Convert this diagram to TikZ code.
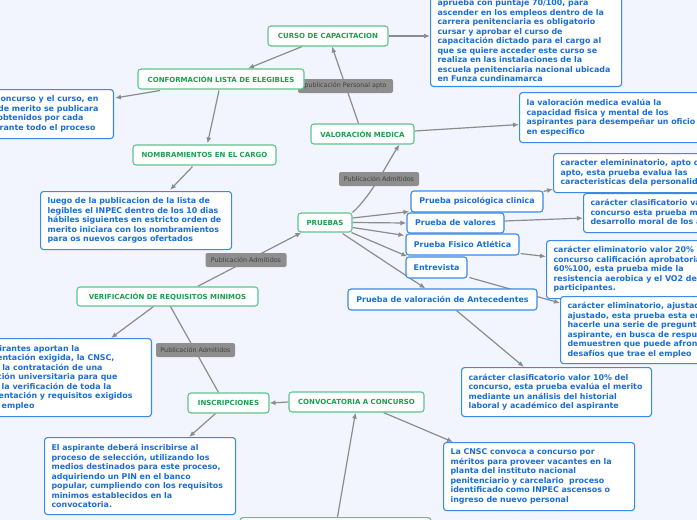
\documentclass[tikz,border=0pt]{standalone}
\usepackage{fontspec}
\setmainfont{DejaVu Sans}
\usetikzlibrary{arrows.meta,calc}
\definecolor{bgc}{HTML}{F2F5FD}
\definecolor{btxt}{HTML}{1A6ED8}
\definecolor{bbrd}{HTML}{3A8AE8}
\definecolor{gtxt}{HTML}{1E9E50}
\definecolor{gbrd}{HTML}{5DC58C}
\definecolor{lnc}{HTML}{8C8C8C}
\definecolor{lblf}{HTML}{8E8E8E}
\definecolor{lblt}{HTML}{404040}
\pgfdeclarelayer{bg}
\pgfsetlayers{bg,main}
\newcommand\padr[1]{\rule{#1}{0pt}}
\tikzset{
  bluebox/.style={draw=bbrd, line width=1.1pt, fill=white, rounded corners=3pt, text=btxt,
    font=\fontsize{7.9}{9.5}\selectfont\bfseries, inner xsep=7pt, inner ysep=3pt, align=left},
  prueba/.style={bluebox, minimum height=21pt, inner ysep=0pt, align=center},
  greenbox/.style={draw=gbrd, line width=1.1pt, fill=white, rounded corners=3pt, text=gtxt,
    font=\fontsize{7}{8}\selectfont\bfseries, minimum height=20pt, inner sep=0pt},
  lbl/.style={fill=lblf, rounded corners=2pt, text=lblt, font=\fontsize{6.4}{7}\selectfont,
    minimum height=14pt, inner xsep=3pt, inner ysep=0pt},
  conn/.style={draw=lnc, line width=1.2pt, -{Latex[length=6pt,width=5pt]}},
  linkplain/.style={draw=lnc, line width=1.2pt}
}
\begin{document}
\begin{tikzpicture}[x=1pt,y=-1pt]
\useasboundingbox (0,0) rectangle (697,520);
\clip (0,0) rectangle (697,520);

% ---- top area
\node[greenbox, minimum width=120pt] (curso) at (328,36) {CURSO DE CAPACITACION};
\node[bluebox, anchor=south west, text width=177pt, inner ysep=4.5pt] (toptext) at (430,87)
 {aprueba con puntaje 70/100, para\\ascender en los empleos dentro de la\\carrera penitenciaria es obligatorio\\cursar y aprobar el curso de\\capacitación dictado para el cargo al\\que se quiere acceder este curso se\\realiza en las instalaciones de la\\escuela penitenciaria nacional ubicada\\en Funza cundinamarca};
\node[lbl, minimum width=95pt] (lapto) at (345.5,86) {publicación Personal apto};
\node[greenbox, minimum width=166pt] (conf) at (221,79) {CONFORMACIÓN LISTA DE ELEGIBLES};
\node[bluebox, anchor=north east, align=right, minimum height=49pt] (conc) at (114,89)
 {el concurso y el curso, en\padr{8pt}\\la lista de merito se publicara\padr{8pt}\\los puntajes obtenidos por cada\padr{23pt}\\aspirante durante todo el proceso\padr{11pt}};
\node[greenbox, minimum width=143pt] (nomb) at (204.5,155) {NOMBRAMIENTOS EN EL CARGO};
\node[bluebox, anchor=north west, text width=177pt, minimum height=58pt] (luego) at (40,191)
 {luego de la publicacion de la lista de\\legibles el INPEC dentro de los 10 dias\\hábiles siguientes en estricto orden de\\merito iniciara con los nombramientos\\para os nuevos cargos ofertados};

% ---- valoracion medica
\node[greenbox, minimum width=103pt] (val) at (362.5,134) {VALORACIÓN MEDICA};
\node[bluebox, anchor=north west, minimum height=50pt] (valtext) at (519,92)
 {la valoración medica evalúa la\\capacidad fisica y mental de los\\aspirantes para desempeñar un oficio\\en especifico};
\node[lbl, minimum width=80pt] (ladm2) at (379,179) {Publicación Admitidos};

% ---- pruebas
\node[greenbox, minimum width=54pt, minimum height=19pt] (pru) at (325,222.5) {PRUEBAS};
\node[bluebox, anchor=north west, minimum height=39pt] (car1) at (553,153)
 {caracter elemininatorio, apto o no\\apto, esta prueba evalua las\\caracteristicas dela personalidad};
\node[bluebox, anchor=north west, minimum height=39pt] (clas) at (583,193)
 {carácter clasificatorio valor 10\% del\\concurso esta prueba mide el\\desarrollo moral de los aspirantes};
\node[bluebox, anchor=north west, minimum height=58pt] (e20) at (546,240)
 {carácter eliminatorio valor 20\% del\\concurso calificación aprobatoria\\60\%100, esta prueba mide la\\resistencia aerobica y el VO2 de los\\participantes.};
\node[bluebox, anchor=north west, minimum height=67pt] (ajust) at (560,296)
 {carácter eliminatorio, ajustado o no\\ajustado, esta prueba esta enfocada en\\hacerle una serie de preguntas al\\aspirante, en busca de respuestas que\\demuestren que puede afrontar los\\desafíos que trae el empleo};
\node[prueba, minimum width=132pt] (psico) at (477,201.5) {Prueba psicológica clinica};
\node[prueba, minimum width=97pt, minimum height=20pt] (valores) at (455.5,223) {Prueba de valores};
\node[prueba, minimum width=113pt] (fisico) at (462.5,244.5) {Prueba Fisico Atlética};
\node[prueba, minimum width=61pt] (entre) at (436.5,267.5) {Entrevista};
\node[prueba, minimum width=189pt] (ante) at (442.5,299.5) {Prueba de valoración de Antecedentes};
\node[bluebox, anchor=north west, text width=176pt, minimum height=49pt] (c10) at (461,367)
 {carácter clasificatorio valor 10\% del\\concurso, esta prueba evalúa el merito\\mediante un análisis del historial\\laboral y académico del aspirante};

% ---- verificacion
\node[lbl, minimum width=81pt] (ladm1) at (246,260) {Publicación Admitidos};
\node[greenbox, minimum width=181pt, minimum height=19pt] (verif) at (167.5,296.5) {VERIFICACIÓN DE REQUISITOS MINIMOS};
\node[bluebox, anchor=north east, align=right, minimum height=78pt] (irantes) at (152,338)
 {Los aspirantes aportan la\padr{65pt}\\documentación exigida, la CNSC,\padr{30pt}\\realiza la contratación de una\padr{42pt}\\institución universitaria para que\padr{27pt}\\realice la verificación de toda la\padr{33pt}\\documentación y requisitos exigidos\padr{12pt}\\para el empleo\padr{110pt}};
\node[lbl, minimum width=79pt] (ladm3) at (195.5,350) {Publicación Admitidos};

% ---- inscripciones / convocatoria
\node[greenbox, minimum width=81pt] (insc) at (228.5,403) {INSCRIPCIONES};
\node[bluebox, anchor=north west, text width=177pt, minimum height=77pt] (aspir) at (44,437)
 {El aspirante deberá inscribirse al\\proceso de selección, utilizando los\\medios destinados para este proceso,\\adquiriendo un PIN en el banco\\popular, cumpliendo con los requisitos\\minimos establecidos en la\\convocatoria.};
\node[greenbox, minimum width=135pt] (conv) at (356.5,402) {CONVOCATORIA A CONCURSO};
\node[bluebox, anchor=north west, text width=177pt, minimum height=68pt] (cnsc) at (443,442)
 {La CNSC convoca a concurso por\\méritos para proveer vacantes en la\\planta del instituto nacional\\penitenciario y carcelario \ proceso\\identificado como INPEC ascensos o\\ingreso de nuevo personal};
\node[greenbox, anchor=north, minimum width=191pt] (bot) at (335.5,517) {};

% ---- connectors
\begin{pgfonlayer}{bg}
\clip (0,0) rectangle (697,520);
\fill[bgc] (0,0) rectangle (697,520);
\draw[conn] (curso.east) -- (curso.east -| toptext.west);
\draw[conn] ($(curso.south)+(-26,0)$) -- ($(conf.north)+(27,0)$);
\draw[conn] ($(val.north)+(-4,0)$) -- ($(curso.south)+(4,0)$);
\draw[conn] ($(conf.south)+(-61,1)$) -- ($(conc.north east)+(1,9)$);
\draw[conn] ($(conf.south)+(-2,1)$) -- ($(nomb.north)+(3,-1)$);
\draw[conn] ($(nomb.south)+(-12,1)$) -- ($(luego.north)+(34,-1)$);
\draw[conn] ($(verif.north)+(30,0)$) -- ($(pru.south west)+(4,0)$);
\draw[conn] (pru.north east) .. controls (372,195) and (388,162) .. ($(val.south)+(37,0)$);
\draw[conn] ($(val.east)+(0,-3)$) -- ($(valtext.west)+(0,7)$);
\draw[conn] ($(pru.east)+(0,-4.5)$) -- ($(psico.south west)+(-1,-1)$);
\draw[conn] (pru.east) -- (valores.west);
\draw[conn] ($(pru.east)+(0,5)$) -- ($(fisico.north west)+(-1,2)$);
\draw[conn] ($(pru.south east)+(-1,0)$) -- ($(entre.north west)+(2,0)$);
\draw[conn] ($(pru.south east)+(-10,1)$) -- ($(ante.north west)+(78,0)$);
\draw[conn] ($(psico.north east)+(0,1)$) -- ($(car1.south west)+(0,-4)$);
\draw[conn] ($(valores.east)+(0,-2)$) -- ($(clas.west)+(0,5)$);
\draw[conn] ($(fisico.south east)+(1,-2)$) -- ($(e20.west)+(0,-13)$);
\draw[conn] ($(entre.south east)+(2,-1)$) -- ($(ajust.north west)+(0,7)$);
\draw[conn] ($(ante.south)+(14,0)$) -- ($(c10.north west)+(63,0)$);
\draw[conn] ($(verif.south)+(-14,0)$) -- ($(irantes.north east)+(-41,0)$);
\draw[linkplain] ($(insc.north)+(-10,0)$) -- ($(verif.south)+(3,0)$);
\draw[conn] (conv.west) -- (insc.east);
\draw[conn] ($(insc.south)+(-13,0)$) -- ($(aspir.north)+(49,0)$);
\draw[conn] ($(conv.south)+(27,0)$) -- ($(cnsc.north west)+(10,0)$);
\draw[conn] ($(bot.north)+(2,0)$) -- ($(conv.south)+(-1,0)$);
\end{pgfonlayer}
\end{tikzpicture}
\end{document}
